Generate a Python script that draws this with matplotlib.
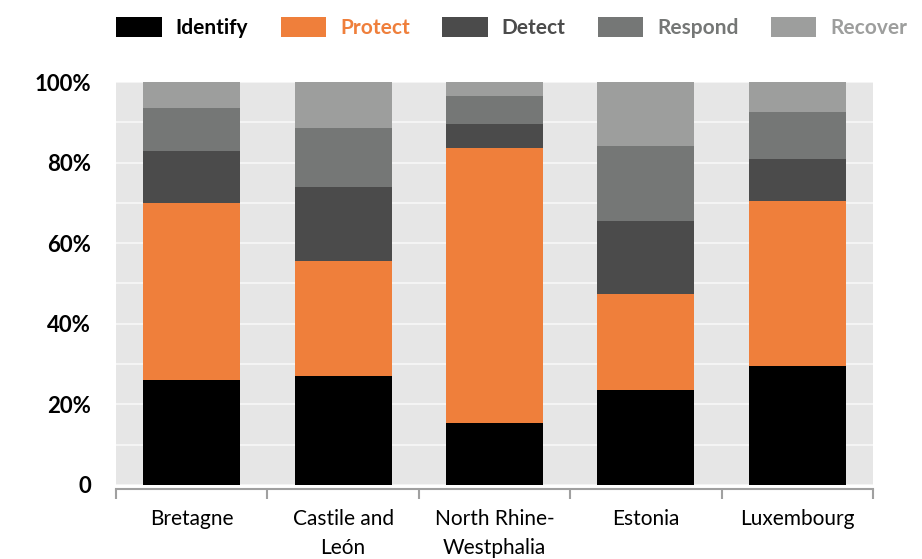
import numpy as np
import matplotlib
matplotlib.use("Agg")
from matplotlib import pyplot as plt
from matplotlib.patches import Patch

# data (percent shares per region)
regions = ["Bretagne", "Castile and\nLeón", "North Rhine-\nWestphalia", "Estonia", "Luxembourg"]
functions = ["Identify", "Protect", "Detect", "Respond", "Recover"]
identify = [26.0, 27.0, 15.5, 23.5, 29.5]
protect = [44.0, 28.5, 68.0, 24.0, 41.0]
detect = [13.0, 18.5, 6.0, 18.0, 10.5]
respond = [10.5, 14.5, 7.0, 18.5, 11.5]
recover = [6.5, 11.5, 3.5, 16.0, 7.5]
yticks = [0, 20, 40, 60, 80, 100]
ytick_labels = ["0", "20%", "40%", "60%", "80%", "100%"]

colors = ["#000000", "#EF7F3B", "#4B4B4B", "#757776", "#9D9E9D"]

plt.rcParams['font.family'] = ['Lato', 'DejaVu Sans']

fig = plt.figure(figsize=(9.22, 5.59), dpi=100)
ax = fig.add_axes([0.1258, 0.1324, 0.8211, 0.7209])
ax.set_facecolor("#E6E6E6")

x = np.arange(len(regions))
bottom = np.zeros(len(regions))
for vals, c in zip([identify, protect, detect, respond, recover], colors):
    ax.bar(x, vals, width=0.64, bottom=bottom, color=c, zorder=3)
    bottom += np.array(vals)

ax.set_xlim(-0.48, len(regions) - 0.52)
ax.set_ylim(0, 100)
ax.set_yticks(yticks)
ax.set_yticks(np.arange(10, 100, 20), minor=True)
ax.yaxis.grid(True, which="both", color="#F4F4F4", linewidth=1.5, zorder=1)
ax.set_yticklabels(ytick_labels)
ax.tick_params(axis="y", which="both", length=0, pad=18, labelsize=16)
for t in ax.get_yticklabels():
    t.set_fontweight("bold")

ax.set_xticks(x)
ax.set_xticks(np.arange(-0.5, len(regions), 1.0), minor=True)
ax.set_xticklabels(regions)
ax.tick_params(axis="x", which="major", length=0, pad=14, labelsize=15)
ax.tick_params(axis="x", which="minor", length=7, width=1.5, color="#A0A0A0")

for s in ["top", "right", "left"]:
    ax.spines[s].set_visible(False)
ax.spines["bottom"].set_color("#A0A0A0")
ax.spines["bottom"].set_linewidth(1.5)
ax.spines["bottom"].set_position(("outward", 3))

handles = [Patch(facecolor=c, edgecolor="none") for c in colors]
leg = fig.legend(handles, functions, loc="center", bbox_to_anchor=(0.555, 0.951),
                 ncol=5, frameon=False, handlelength=2.2, handleheight=1.15,
                 handletextpad=0.65, columnspacing=1.55,
                 prop={"size": 15, "weight": "bold"})
for t, c in zip(leg.get_texts(), colors):
    t.set_color(c)

fig.canvas.draw()
for t in ax.get_xticklabels():
    t.set_linespacing(1.6)

fig.savefig("out.png", dpi=100)
